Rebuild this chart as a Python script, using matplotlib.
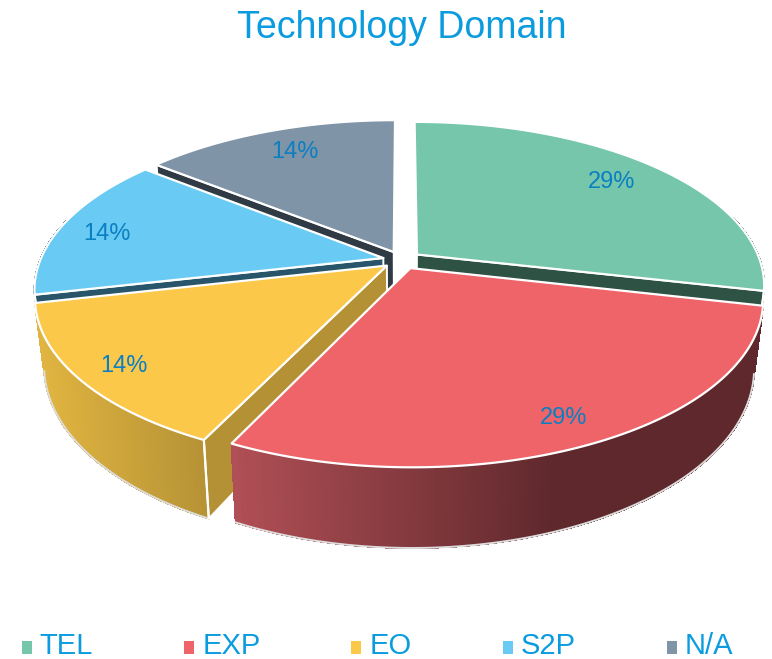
import numpy as np
import matplotlib
matplotlib.use("Agg")
import matplotlib.pyplot as plt
from matplotlib.collections import PolyCollection
from matplotlib.legend_handler import HandlerPatch
from matplotlib.patches import Patch, Polygon, Rectangle

plt.rcParams['font.family'] = ['Liberation Sans', 'DejaVu Sans']

# data
names = ["TEL", "EXP", "EO", "S2P", "N/A"]
counts = [2, 2, 1, 1, 1]

# colours: top face, side face, wall at left of picture, wall at right
top_col = ["#75C6AB", "#EE6468", "#FCC84A", "#69CBF3", "#7F94A7"]
side_col = ["#2E5244", "#5E282C", "#B49135", "#28556A", "#2F3A45"]
wall_left = ["#2E5244", "#B04F55", "#E0B440", "#28556A", "#2F3A45"]
wall_right = ["#2E5244", "#5E282C", "#B49135", "#28556A", "#2F3A45"]
wall_span = [(0, 772), (235, 560), (40, 210), (0, 772), (0, 772)]
label_pos = [(612, 182), (564, 418), (124, 366), (107, 234), (295, 152)]

# fake 3d camera, all in pixels
CX, CY = 402, 260
RX, RY = 343, 159
PERSP = 0.185
DEPTH = 65
LEAN = 0.025
EXPLODE = 0.056
BLUE = "#0B9CE0"


def project(x, y, z=0.0):
    w = 1 + PERSP * y
    sx = CX + RX * x / w * (1 - LEAN * z)
    sy = CY - RY * y / w + DEPTH * z / w
    return np.column_stack([np.atleast_1d(sx), np.atleast_1d(sy)])


def draw_slice(ax, i, start, end, order):
    mid = (start + end) / 2
    ox = EXPLODE * np.sin(mid)
    oy = EXPLODE * np.cos(mid)
    th = np.linspace(start, end, 120)
    ax_x = ox + np.sin(th)
    ax_y = oy + np.cos(th)

    arc_top = project(ax_x, ax_y, 0)
    arc_bot = project(ax_x, ax_y, 1)
    apex_top = project(ox, oy, 0)
    apex_bot = project(ox, oy, 1)

    # outer wall, thin strips for the gradient. back of the arc is never seen
    front = np.cos(th) < 0.25
    quads = []
    cols = []
    c0 = np.array(matplotlib.colors.to_rgb(wall_left[i]))
    c1 = np.array(matplotlib.colors.to_rgb(wall_right[i]))
    x0, x1 = wall_span[i]
    for j in range(len(th) - 1):
        if not (front[j] and front[j + 1]):
            continue
        quads.append([arc_top[j], arc_top[j + 1], arc_bot[j + 1], arc_bot[j]])
        t = np.clip((arc_top[j][0] - x0) / (x1 - x0), 0, 1)
        cols.append(c0 + (c1 - c0) * t)
    if quads:
        ax.add_collection(PolyCollection(quads, facecolors=cols, edgecolors=cols,
                                         lw=0.8, antialiased=False, zorder=order))
        ax.plot(arc_bot[front, 0], arc_bot[front, 1], color="#DDDDDD", lw=1.4,
                zorder=order + 0.05)

    # cut faces, only the ones turned toward the camera
    for k, seen in ((0, np.sin(start) < -1e-6), (-1, np.sin(end) > 1e-6)):
        if not seen:
            continue
        face = np.vstack([apex_top, arc_top[k], arc_bot[k], apex_bot])
        ax.add_patch(Polygon(face, closed=True, fc=side_col[i], ec="white",
                             lw=1.4, zorder=order + 0.1))
        ax.plot([arc_top[k][0], arc_bot[k][0]], [arc_top[k][1], arc_bot[k][1]],
                color="white", lw=1.6, zorder=order + 0.2)

    # top face
    top = np.vstack([apex_top, arc_top])
    ax.add_patch(Polygon(top, closed=True, fc=top_col[i], ec="white", lw=1.6,
                         joinstyle="round", zorder=order + 0.3))


def low_square(legend, orig_handle, xdescent, ydescent, width, height, fontsize):
    return Rectangle((-xdescent, -ydescent - 3), width, height)


fig = plt.figure(figsize=(7.72, 6.59), dpi=100)
ax = fig.add_axes([0, 0, 1, 1])
ax.set_xlim(0, 772)
ax.set_ylim(659, 0)
ax.axis("off")

total = sum(counts)
edges = np.concatenate([[0], np.cumsum(counts)]) / total * 2 * np.pi

# back slices first so the front ones cover them
for order, i in enumerate([4, 0, 3, 2, 1]):
    draw_slice(ax, i, edges[i], edges[i + 1], order + 1)

for i in range(len(names)):
    pct = 100 * counts[i] / total
    ax.text(label_pos[i][0], label_pos[i][1], f"{pct:.0f}%", color="#0A7FC2",
            fontsize=17, ha="center", va="center", zorder=20)

ax.text(402, 28, "Technology Domain", color=BLUE, fontsize=27,
        ha="center", va="center")

handles = [Patch(fc=c, ec="none") for c in top_col]
ax.legend(handles, names, loc="center", bbox_to_anchor=(377.5, 646),
          bbox_transform=ax.transData, ncol=5, frameon=False, fontsize=21,
          labelcolor=BLUE, handlelength=0.34, handleheight=0.34,
          handletextpad=0.28, columnspacing=3.12,
          handler_map={Patch: HandlerPatch(patch_func=low_square)})

fig.savefig("out.png", dpi=100)
